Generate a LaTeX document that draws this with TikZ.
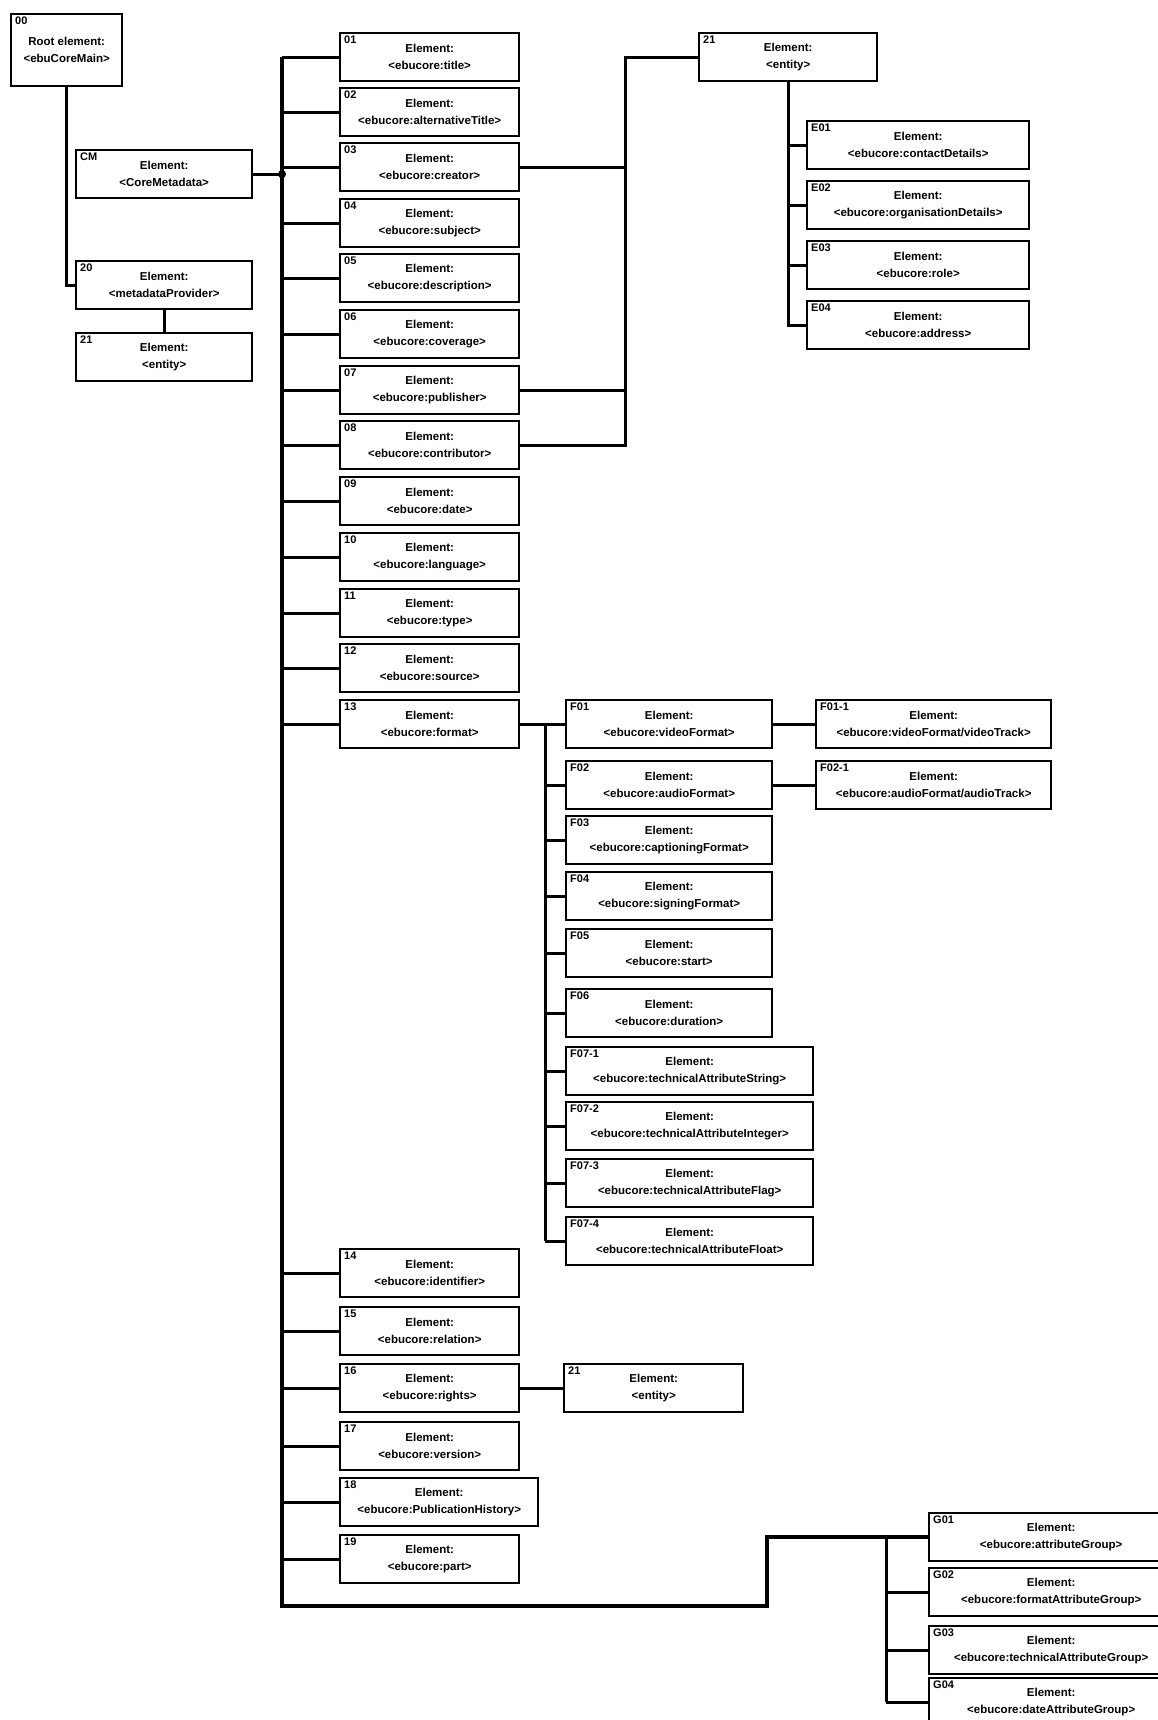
\documentclass[tikz,border=0pt]{standalone}
\usepackage{fontspec}
\setmainfont{Liberation Sans}
\usepackage{tikz}
\definecolor{SchemaInk}{RGB}{0,0,0}
\definecolor{SchemaPaper}{RGB}{255,255,255}

\tikzset{
  elbox/.style={draw=SchemaInk, line width=2.4pt, fill=SchemaPaper, anchor=north west,
    minimum height=48pt, inner sep=1pt, align=center,
    font=\fontsize{11.5}{17}\selectfont\bfseries},
  elid/.style={anchor=north west, inner sep=0pt, xshift=5pt, yshift=-4pt,
    font=\fontsize{11}{12}\selectfont\bfseries},
  branch/.style={draw=SchemaInk, line width=3pt},
  trunk/.style={draw=SchemaInk, line width=4.5pt},
  joint/.style={circle, fill=SchemaInk, inner sep=0pt, minimum size=8pt}
}

% box: name, x, y, width, id, tag
\newcommand{\elem}[6]{%
  \node[elbox, minimum width=#4pt] (#1) at (#2,#3) {Element:\\#6};
  \node[elid] (#1-id) at (#1.north west) {#5};
}

\begin{document}
\begin{tikzpicture}[x=1pt,y=-1pt]
\useasboundingbox (0,0) rectangle (1157,1720);

% root and core
\node[elbox, minimum width=111pt, minimum height=72pt] (root) at (10,13) {Root element:\\<ebuCoreMain>};
\node[elid] (root-id) at (root.north west) {00};
\elem{core}{75}{149}{176}{CM}{<CoreMetadata>}
\elem{provider}{75}{260}{176}{20}{<metadataProvider>}
\elem{provent}{75}{332}{176}{21}{<entity>}

% main column
\elem{m01}{339}{32}{179}{01}{<ebucore:title>}
\elem{m02}{339}{87}{179}{02}{<ebucore:alternativeTitle>}
\elem{m03}{339}{142}{179}{03}{<ebucore:creator>}
\elem{m04}{339}{198}{179}{04}{<ebucore:subject>}
\elem{m05}{339}{253}{179}{05}{<ebucore:description>}
\elem{m06}{339}{309}{179}{06}{<ebucore:coverage>}
\elem{m07}{339}{365}{179}{07}{<ebucore:publisher>}
\elem{m08}{339}{420}{179}{08}{<ebucore:contributor>}
\elem{m09}{339}{476}{179}{09}{<ebucore:date>}
\elem{m10}{339}{532}{179}{10}{<ebucore:language>}
\elem{m11}{339}{588}{179}{11}{<ebucore:type>}
\elem{m12}{339}{643}{179}{12}{<ebucore:source>}
\elem{m13}{339}{699}{179}{13}{<ebucore:format>}
\elem{m14}{339}{1248}{179}{14}{<ebucore:identifier>}
\elem{m15}{339}{1306}{179}{15}{<ebucore:relation>}
\elem{m16}{339}{1363}{179}{16}{<ebucore:rights>}
\elem{m17}{339}{1421}{179}{17}{<ebucore:version>}
\elem{m18}{339}{1477}{198}{18}{<ebucore:PublicationHistory>}
\elem{m19}{339}{1534}{179}{19}{<ebucore:part>}

% entity
\elem{ent}{698}{32}{178}{21}{<entity>}
\elem{e01}{806}{120}{222}{E01}{<ebucore:contactDetails>}
\elem{e02}{806}{180}{222}{E02}{<ebucore:organisationDetails>}
\elem{e03}{806}{240}{222}{E03}{<ebucore:role>}
\elem{e04}{806}{300}{222}{E04}{<ebucore:address>}

% format
\elem{f01}{565}{699}{206}{F01}{<ebucore:videoFormat>}
\elem{f02}{565}{760}{206}{F02}{<ebucore:audioFormat>}
\elem{f03}{565}{815}{206}{F03}{<ebucore:captioningFormat>}
\elem{f04}{565}{871}{206}{F04}{<ebucore:signingFormat>}
\elem{f05}{565}{928}{206}{F05}{<ebucore:start>}
\elem{f06}{565}{988}{206}{F06}{<ebucore:duration>}
\elem{f071}{565}{1046}{247}{F07-1}{<ebucore:technicalAttributeString>}
\elem{f072}{565}{1101}{247}{F07-2}{<ebucore:technicalAttributeInteger>}
\elem{f073}{565}{1158}{247}{F07-3}{<ebucore:technicalAttributeFlag>}
\elem{f074}{565}{1216}{247}{F07-4}{<ebucore:technicalAttributeFloat>}
\elem{f011}{815}{699}{235}{F01-1}{<ebucore:videoFormat/videoTrack>}
\elem{f021}{815}{760}{235}{F02-1}{<ebucore:audioFormat/audioTrack>}

% rights entity and groups
\elem{rent}{563}{1363}{179}{21}{<entity>}
\elem{g01}{928}{1512}{244}{G01}{<ebucore:attributeGroup>}
\elem{g02}{928}{1567}{244}{G02}{<ebucore:formatAttributeGroup>}
\elem{g03}{928}{1625}{244}{G03}{<ebucore:technicalAttributeGroup>}
\elem{g04}{928}{1677}{244}{G04}{<ebucore:dateAttributeGroup>}

% bus positions
\coordinate (mainbus) at (282,0);
\coordinate (entbus) at (625,0);
\coordinate (fbus) at (545,0);
\coordinate (gbus) at (886,0);
\coordinate (busend) at (282,1606);
\coordinate (gturn) at (767,1606);

% connectors
\draw[branch] (root.south) |- (provider.west);
\draw[branch] (provider.south) -- (provent.north);
\draw[trunk] (m01.west -| mainbus) -- (busend) -| (gturn |- g01.west) -- (g01.west);
\foreach \m in {m01,m02,m03,m04,m05,m06,m07,m08,m09,m10,m11,m12,m13,m14,m15,m16,m17,m18,m19}
  \draw[branch] (\m.west -| mainbus) -- (\m.west);
\draw[branch] (core.east) -- (core.east -| mainbus) node[joint] (corejoint) {};

\draw[branch] (ent.west) -- (ent.west -| entbus) -- (m08.east -| entbus) -- (m08.east);
\draw[branch] (m03.east) -- (m03.east -| entbus);
\draw[branch] (m07.east) -- (m07.east -| entbus);
\draw[branch] (ent.south) |- (e04.west);
\foreach \e in {e01,e02,e03}
  \draw[branch] (\e.west -| ent.south) -- (\e.west);

\draw[branch] (m13.east) -- (f01.west);
\draw[branch] (f01.west -| fbus) -- (f074.west -| fbus);
\foreach \f in {f02,f03,f04,f05,f06,f071,f072,f073,f074}
  \draw[branch] (\f.west -| fbus) -- (\f.west);
\draw[branch] (f01.east) -- (f011.west);
\draw[branch] (f02.east) -- (f021.west);

\draw[branch] (m16.east) -- (rent.west);
\draw[branch] (g01.west -| gbus) -- (g04.west -| gbus);
\foreach \g in {g02,g03,g04}
  \draw[branch] (\g.west -| gbus) -- (\g.west);
\end{tikzpicture}
\end{document}
